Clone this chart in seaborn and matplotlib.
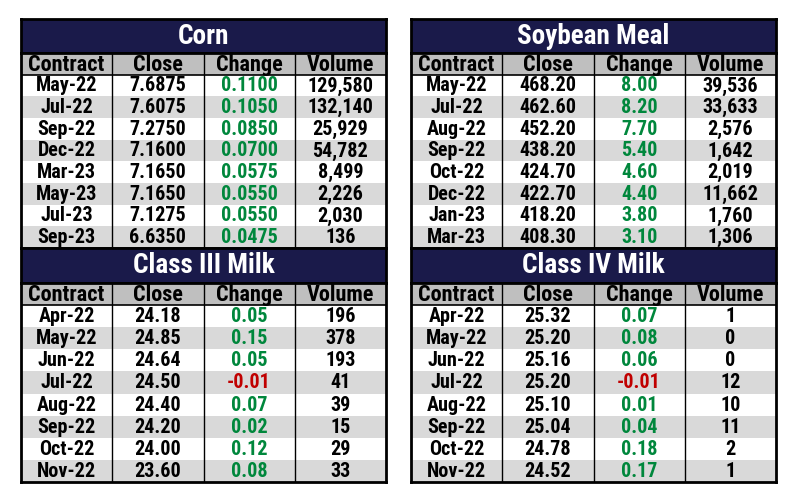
import numpy as np
import pandas as pd
import matplotlib
matplotlib.use("Agg")
import matplotlib.pyplot as plt
from matplotlib.colors import ListedColormap
import seaborn as sns

# =============================
# Data
# =============================
corn_contract = ["May-22", "Jul-22", "Sep-22", "Dec-22", "Mar-23", "May-23", "Jul-23", "Sep-23"]
corn_close = [7.6875, 7.6075, 7.2750, 7.1600, 7.1650, 7.1650, 7.1275, 6.6350]
corn_change = [0.1100, 0.1050, 0.0850, 0.0700, 0.0575, 0.0550, 0.0550, 0.0475]
corn_volume = [129580, 132140, 25929, 54782, 8499, 2226, 2030, 136]

soy_contract = ["May-22", "Jul-22", "Aug-22", "Sep-22", "Oct-22", "Dec-22", "Jan-23", "Mar-23"]
soy_close = [468.20, 462.60, 452.20, 438.20, 424.70, 422.70, 418.20, 408.30]
soy_change = [8.00, 8.20, 7.70, 5.40, 4.60, 4.40, 3.80, 3.10]
soy_volume = [39536, 33633, 2576, 1642, 2019, 11662, 1760, 1306]

milk3_contract = ["Apr-22", "May-22", "Jun-22", "Jul-22", "Aug-22", "Sep-22", "Oct-22", "Nov-22"]
milk3_close = [24.18, 24.85, 24.64, 24.50, 24.40, 24.20, 24.00, 23.60]
milk3_change = [0.05, 0.15, 0.05, -0.01, 0.07, 0.02, 0.12, 0.08]
milk3_volume = [196, 378, 193, 41, 39, 15, 29, 33]

milk4_contract = ["Apr-22", "May-22", "Jun-22", "Jul-22", "Aug-22", "Sep-22", "Oct-22", "Nov-22"]
milk4_close = [25.32, 25.20, 25.16, 25.20, 25.10, 25.04, 24.78, 24.52]
milk4_change = [0.07, 0.08, 0.06, -0.01, 0.01, 0.04, 0.18, 0.17]
milk4_volume = [1, 0, 0, 12, 10, 11, 2, 1]

columns = ["Contract", "Close", "Change", "Volume"]

# =============================
# Style
# =============================
sns.set_theme(style="white")
plt.rcParams["font.family"] = ["Roboto Condensed", "DejaVu Sans"]

NAVY = "#1a1a4a"
HEAD = "#bfbfbf"
STRIPE = "#d9d9d9"
GREEN = "#00873c"
RED = "#c00000"
WEIGHT = 800

W, H = 795, 503
fig = plt.figure(figsize=(W / 100, H / 100), dpi=100)


def frac(x0, y0, x1, y1):
    # pixel box (top-left origin) -> figure fraction
    return [x0 / W, 1 - y1 / H, (x1 - x0) / W, (y1 - y0) / H]


def draw_table(title, contract, close, change, volume, decimals, box):
    x0, y0, x1, ytitle, y1 = box
    df = pd.DataFrame({"Contract": contract, "Close": close,
                       "Change": change, "Volume": volume})

    # title bar
    ax_t = fig.add_axes(frac(x0, y0, x1, ytitle))
    ax_t.set_facecolor(NAVY)
    ax_t.set_xticks([])
    ax_t.set_yticks([])
    for s in ax_t.spines.values():
        s.set_visible(True)
        s.set_color("black")
        s.set_linewidth(2)
    ax_t.text(0.5, 0.5, title, color="white", fontsize=19.5, fontweight=WEIGHT,
              ha="center", va="center", transform=ax_t.transAxes)

    # header + striped rows as a heatmap
    n = len(df)
    shade = np.array([[0] * 4] + [[1 + (i % 2)] * 4 for i in range(n)])
    ax = fig.add_axes(frac(x0, ytitle, x1, y1))
    sns.heatmap(shade, cmap=ListedColormap([HEAD, "white", STRIPE]), vmin=-0.5, vmax=2.5,
                cbar=False, xticklabels=False, yticklabels=False, ax=ax)
    ax.vlines([1, 2, 3], 0, n + 1, color="black", lw=1)
    ax.hlines(1, 0, 4, color="black", lw=1.2)
    for s in ax.spines.values():
        s.set_visible(True)
        s.set_color("black")
        s.set_linewidth(2)

    for j, col in enumerate(columns):
        ax.text(j + 0.5, 0.55, col, ha="center", va="center", fontsize=16,
                fontweight=WEIGHT, color="black")

    for i, row in df.iterrows():
        y = i + 1.52
        chg_color = GREEN if row["Change"] >= 0 else RED
        cells = [
            (row["Contract"], "black"),
            (f"{row['Close']:.{decimals}f}", "black"),
            (f"{row['Change']:.{decimals}f}", chg_color),
            (f"{int(row['Volume']):,}", "black"),
        ]
        for j, (txt, c) in enumerate(cells):
            ax.text(j + 0.5, y, txt, ha="center", va="center", fontsize=14.5,
                    fontweight=WEIGHT, color=c)


draw_table("Corn", corn_contract, corn_close, corn_change, corn_volume, 4,
           (21, 19, 386, 53, 248))
draw_table("Soybean Meal", soy_contract, soy_close, soy_change, soy_volume, 2,
           (411, 19, 776, 53, 248))
draw_table("Class III Milk", milk3_contract, milk3_close, milk3_change, milk3_volume, 2,
           (21, 248, 386, 283, 482))
draw_table("Class IV Milk", milk4_contract, milk4_close, milk4_change, milk4_volume, 2,
           (411, 248, 776, 283, 482))

plt.savefig("out.png", dpi=100)
